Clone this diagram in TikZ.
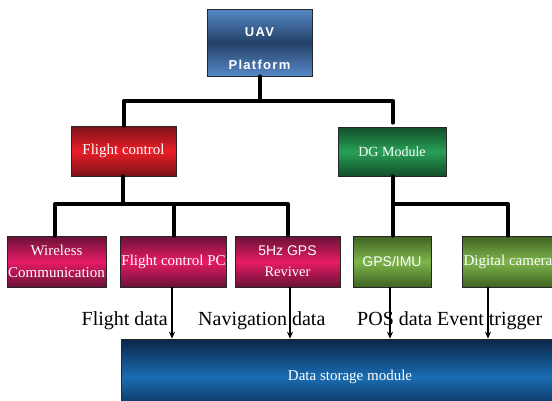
\documentclass[tikz,border=0pt]{standalone}
\usepackage{fontspec}
\setmainfont{Liberation Serif}
\newfontfamily\sansf{Liberation Sans}
\newfontfamily\uavfont[LetterSpace=10]{Liberation Sans}
\usetikzlibrary{arrows.meta}

\definecolor{uavEdge}{RGB}{86,136,198}
\definecolor{uavMid}{RGB}{36,66,104}
\definecolor{redEdge}{RGB}{122,18,24}
\definecolor{redMid}{RGB}{236,30,40}
\definecolor{dgEdge}{RGB}{18,78,42}
\definecolor{dgMid}{RGB}{40,160,86}
\definecolor{pinkEdge}{RGB}{104,18,54}
\definecolor{pinkMid}{RGB}{232,26,102}
\definecolor{oliveEdge}{RGB}{62,98,34}
\definecolor{oliveMid}{RGB}{126,182,76}
\definecolor{dsEdge}{RGB}{10,38,72}
\definecolor{dsMid}{RGB}{26,108,178}

\begin{document}
\begin{tikzpicture}[x=1pt,y=-1pt,
  box/.style={rectangle, draw=black!85, line width=0.7pt, inner sep=1pt,
    text=white, align=center},
  grad/.style 2 args={top color=#1, bottom color=#1, middle color=#2},
  boxtext/.style={font=\fontsize{15}{22}\selectfont},
  bus/.style={line width=4pt, line join=round, line cap=round},
  feed/.style={line width=1.8pt, -{Stealth[length=7pt,width=6pt]}},
  lbl/.style={inner sep=0pt, font=\fontsize{20}{24}\selectfont}]
\useasboundingbox (0,0) rectangle (552,400);
\clip (0,0) rectangle (552,400);

% top level platform
\node[box, grad={uavEdge}{uavMid}, minimum width=105pt, minimum height=67pt]
  (uav) at (259.5,42.5) {};
\node[text=white, align=center, font=\uavfont\bfseries\fontsize{13}{33}\selectfont]
  (uavtext) at (259.5,48.5) {UAV\\Platform};

% second level
\node[box, boxtext, grad={redEdge}{redMid}, minimum width=105pt, minimum height=50pt]
  (fc) at (123.5,151) {Flight control};
\node[box, grad={dgEdge}{dgMid}, minimum width=108pt, minimum height=49pt,
  font=\fontsize{14}{17}\selectfont]
  (dg) at (392,151.5) {DG Module};

% third level
\node[box, boxtext, grad={pinkEdge}{pinkMid}, minimum width=99pt, minimum height=51pt]
  (wc) at (56.5,261.5) {Wireless\\Communication};
\node[box, boxtext, grad={pinkEdge}{pinkMid}, minimum width=105pt, minimum height=51pt]
  (fcpc) at (173.5,261.5) {Flight control PC};
\node[box, grad={pinkEdge}{pinkMid}, minimum width=105pt, minimum height=51pt,
  font=\fontsize{14.5}{21}\selectfont]
  (gps) at (287.5,261.5) {{\sansf\fontsize{14}{21}\selectfont 5Hz GPS}\\Reviver};
\node[box, grad={oliveEdge}{oliveMid}, minimum width=78pt, minimum height=51pt,
  font=\sansf\fontsize{14}{17}\selectfont]
  (imu) at (392,261.5) {GPS/IMU};
\node[box, boxtext, grad={oliveEdge}{oliveMid}, minimum width=90pt, minimum height=51pt]
  (cam) at (508,261.5) {Digital camera};

% storage
\node[box, grad={dsEdge}{dsMid}, minimum width=458pt, minimum height=76pt,
  font=\fontsize{15}{18}\selectfont]
  (ds) at (350,377) {Data storage module};

% tree connectors
\coordinate (busA) at (260,101);
\coordinate (busB) at (123,204);
\coordinate (busC) at (393,204);
\draw[bus] (uav.south -| busA) -- (busA);
\draw[bus] (fc.north) |- (busA) -| ([yshift=4pt]dg.north -| busC);
\draw[bus] (fc.south -| busB) -- (busB);
\draw[bus] ([xshift=-1.5pt]wc.north) |- (busB) -| (gps.north);
\draw[bus] (fcpc.north) -- (fcpc.north |- busB);
\draw[bus] (dg.south -| busC) -- (imu.north -| busC);
\draw[bus] (busC) -| (cam.north);

% data feeds into storage
\coordinate (xa) at (172,0);
\coordinate (xb) at (290,0);
\coordinate (xc) at (390,0);
\coordinate (xd) at (488,0);
\draw[feed] (xa |- fcpc.south) -- (xa |- ds.north);
\draw[feed] (xb |- gps.south) -- (xb |- ds.north);
\draw[feed] (xc |- imu.south) -- (xc |- ds.north);
\draw[feed] (xd |- cam.south) -- (xd |- ds.north);

% feed labels
\node[lbl, anchor=base east] (lflight) at (168,325) {Flight data};
\node[lbl, anchor=base west] (lnav) at (198,325) {Navigation data};
\node[lbl, anchor=base west] (lpos) at (357,325) {POS data};
\node[lbl, anchor=base west] (levent) at (437,325) {Event trigger};
\end{tikzpicture}
\end{document}
